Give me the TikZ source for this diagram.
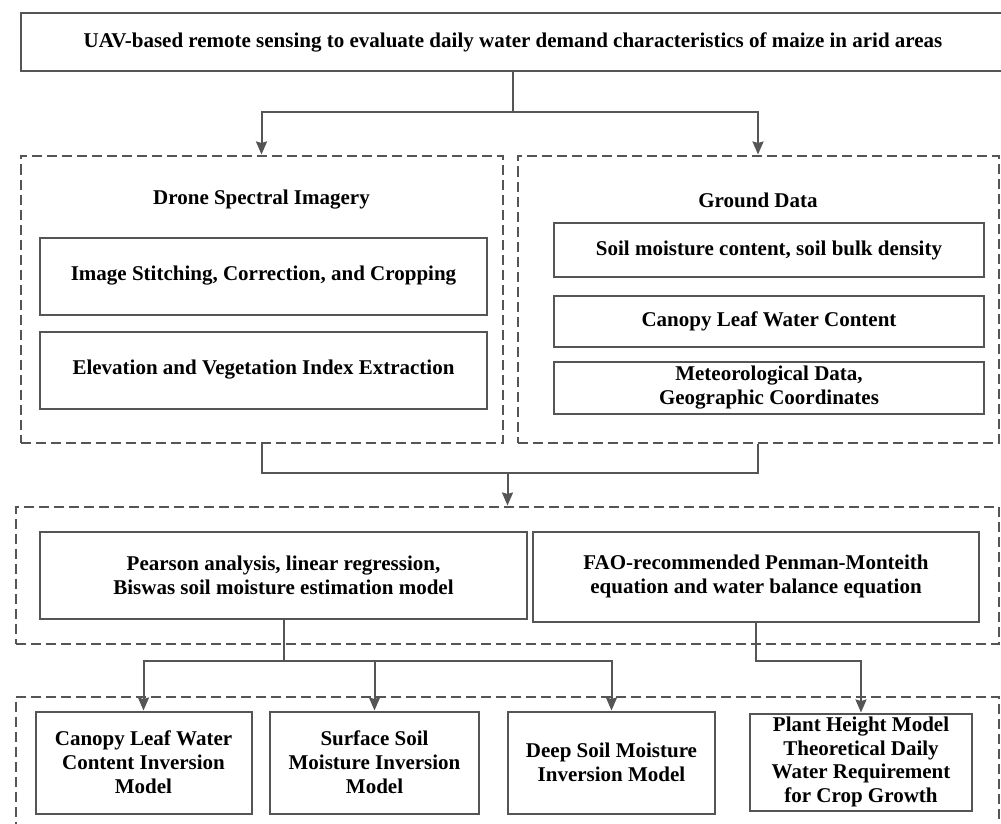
\documentclass[tikz,border=0pt]{standalone}
\usepackage{fontspec}
\setmainfont{Liberation Serif}
\usetikzlibrary{positioning,arrows.meta}
\definecolor{linegray}{HTML}{555555}

\begin{document}
\begin{tikzpicture}[x=1pt,y=-1pt,on grid,
    >={Stealth[length=13pt,width=11pt,inset=1.5pt]},
    box/.style={draw=linegray,line width=2pt,align=center,inner sep=1pt,
        font=\bfseries\fontsize{21}{24}\selectfont},
    group/.style={draw=linegray,line width=2pt,dash pattern=on 10pt off 5pt},
    heading/.style={font=\bfseries\fontsize{21}{24}\selectfont},
    link/.style={draw=linegray,line width=2pt}]
        \useasboundingbox (0,0) rectangle (1001,824);
        \node[box,minimum width=984pt,minimum height=58pt] (top) at (513,42)
            {UAV-based remote sensing to evaluate daily water demand characteristics of maize in arid areas};
        % data sources
        \node[group,minimum width=482pt,minimum height=287pt] (drone) [below left=257pt and 251.5pt of top] {};
        \node[group,minimum width=481pt,minimum height=287pt] (ground) [right=496.5pt of drone] {};
        \node[heading] (droneTitle) [above=99.5pt of drone] {Drone Spectral Imagery};
        \node[box,minimum width=447pt,minimum height=77pt] (stitch) [above right=23pt and 2pt of drone]
            {Image Stitching, Correction, and Cropping};
        \node[box,minimum width=447pt,minimum height=77pt] (elev) [below=94pt of stitch]
            {Elevation and Vegetation Index Extraction};
        \node[heading] (groundTitle) [above=99pt of ground] {Ground Data};
        \node[box,minimum width=430pt,minimum height=54pt] (soil) [above right=49pt and 11pt of ground]
            {Soil moisture content, soil bulk density};
        \node[box,minimum width=430pt,minimum height=51pt] (leaf) [below=71.5pt of soil]
            {Canopy Leaf Water Content};
        \node[box,minimum width=430pt,minimum height=52pt] (meteo) [below=66.5pt of leaf]
            {Meteorological Data,\\Geographic Coordinates};
        % methods
        \node[group,minimum width=983pt,minimum height=137pt] (model) [below right=276pt and 246pt of drone] {};
        \node[box,minimum width=487pt,minimum height=87pt] (pearson) [left=224pt of model]
            {Pearson analysis, linear regression,\\Biswas soil moisture estimation model};
        \node[box,minimum width=446pt,minimum height=90pt] (fao) [below right=1.5pt and 248.5pt of model]
            {FAO-recommended Penman-Monteith\\equation and water balance equation};
        % results
        \node[group,minimum width=983pt,minimum height=144pt] (result) [below=193.5pt of model] {};
        \node[box,minimum width=216pt,minimum height=102pt] (canopy) [below left=187.5pt and 140pt of pearson]
            {Canopy Leaf Water\\Content Inversion\\Model};
        \node[box,minimum width=209pt,minimum height=102pt] (surface) [right=231pt of canopy]
            {Surface Soil\\Moisture Inversion\\Model};
        \node[box,minimum width=207pt,minimum height=102pt] (deep) [right=237pt of surface]
            {Deep Soil Moisture\\Inversion Model};
        \node[box,minimum width=222pt,minimum height=97pt,inner sep=0pt,
            font=\bfseries\fontsize{21}{23.5}\selectfont] (plant) [below right=185.5pt and 105pt of fao]
            {Plant Height Model\\Theoretical Daily\\Water Requirement\\for Crop Growth};
        \coordinate[below=70pt of top] (split1);
        \coordinate[above=102.5pt of model] (join);
        \coordinate[below=85.5pt of pearson] (split2);
        \coordinate[below=84pt of fao] (split3);
        \path[link]
            (top.south) -- (split1)
            (drone.south) |- (join) -| (ground.south)
            (pearson.south) -- (split2);
        \path[->,every edge/.append style={link}]
            (split1) edge [to path={-| (\tikztotarget)}] (drone.north)
            (split1) edge [to path={-| (\tikztotarget)}] (ground.north)
            (join) edge (model.north)
            (split2) edge [to path={-| (\tikztotarget)}] (canopy.north)
            (split2) edge [to path={-| (\tikztotarget)}] (surface.north)
            (split2) edge [to path={-| (\tikztotarget)}] (deep.north);
        \draw[link,->] (fao.south) -- (split3) -| (plant.north);
    \end{tikzpicture}
\end{document}
